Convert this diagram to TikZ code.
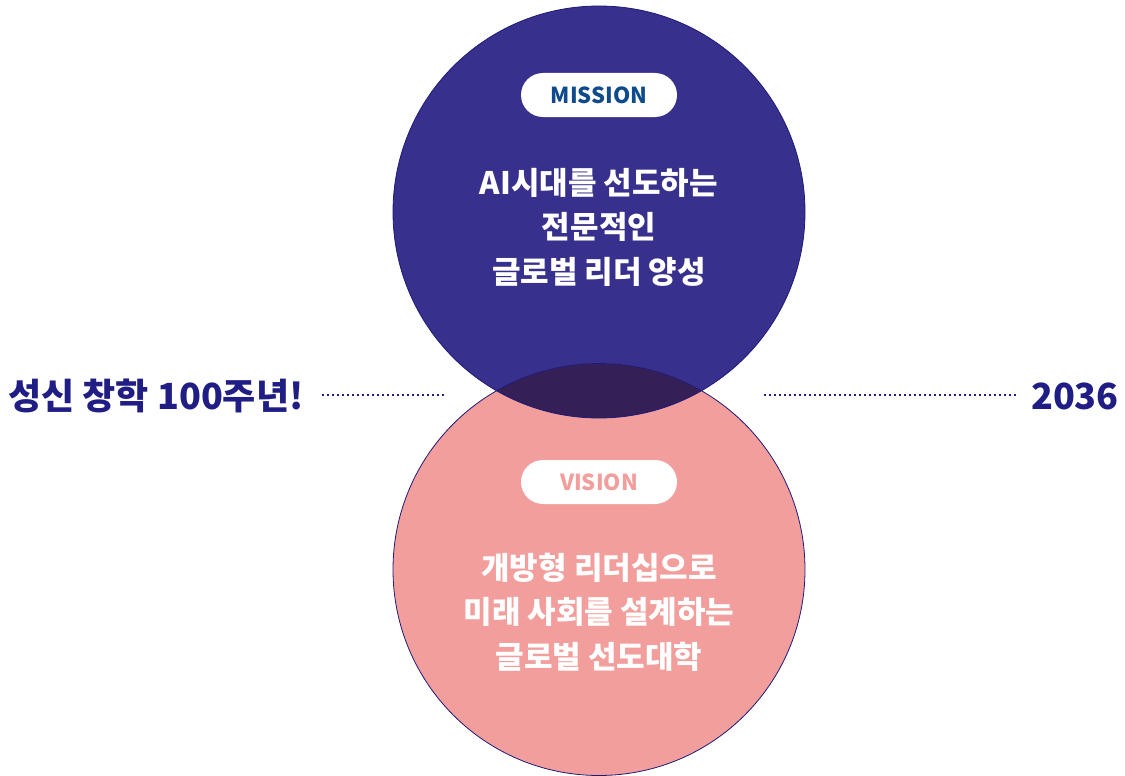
\documentclass[tikz,border=0pt]{standalone}
\usepackage{fontspec}
\setmainfont{Noto Sans CJK KR}
\newfontfamily\kr{Noto Sans CJK KR}
\definecolor{topc}{HTML}{37308C}
\definecolor{lens}{HTML}{351F57}
\definecolor{botc}{HTML}{F19E9C}
\definecolor{edge}{HTML}{1E1A78}
\definecolor{navy}{HTML}{201E84}
\definecolor{misc}{HTML}{0F4A8A}
\tikzset{
  pill/.style={fill=white, rounded corners=22pt, minimum width=156pt, minimum height=44pt, inner sep=0pt, font=\kr\bfseries\fontsize{22}{22}\selectfont},
  ctext/.style={text=white, align=center, font=\kr\bfseries\fontsize{31}{44.5}\selectfont},
  title/.style={text=navy, inner sep=0pt, font=\kr\bfseries\fontsize{36}{36}\selectfont},
  dots/.style={navy, line width=2pt, dash pattern=on 2pt off 3pt}
}
\begin{document}
\begin{tikzpicture}[x=1pt,y=-1pt]
\useasboundingbox (0,0) rectangle (1125,776);
\coordinate (ct) at (599,212);
\coordinate (cb) at (599,569.5);
\fill[topc] (ct) circle (206);
\fill[botc] (cb) circle (206);
\begin{scope}
  \clip (ct) circle (206);
  \fill[lens] (cb) circle (206);
\end{scope}
\draw[edge, line width=0.8pt] (ct) circle (206);
\draw[edge, line width=0.8pt] (cb) circle (206);

\node[pill, text=misc] (mission) at (599,95) {MISSION};
\node[pill, text=botc] (vision) at (599,482) {VISION};

\node[ctext] (mtext) at (599,227) {AI시대를 선도하는\\전문적인\\글로벌 리더 양성};
\node[ctext] (vtext) at (599,612) {개방형 리더십으로\\미래 사회를 설계하는\\글로벌 선도대학};

\node[title, anchor=west] (left) at (8,396) {성신 창학 100주년!};
\node[title, anchor=east] (right) at (1119,396) {2036};

\coordinate (l1) at (322,395);
\coordinate (l2) at (445,395);
\coordinate (r1) at (764,395);
\coordinate (r2) at (1018,395);
\draw[dots] (l1) -- (l2);
\draw[dots] (r1) -- (r2);
\end{tikzpicture}
\end{document}
